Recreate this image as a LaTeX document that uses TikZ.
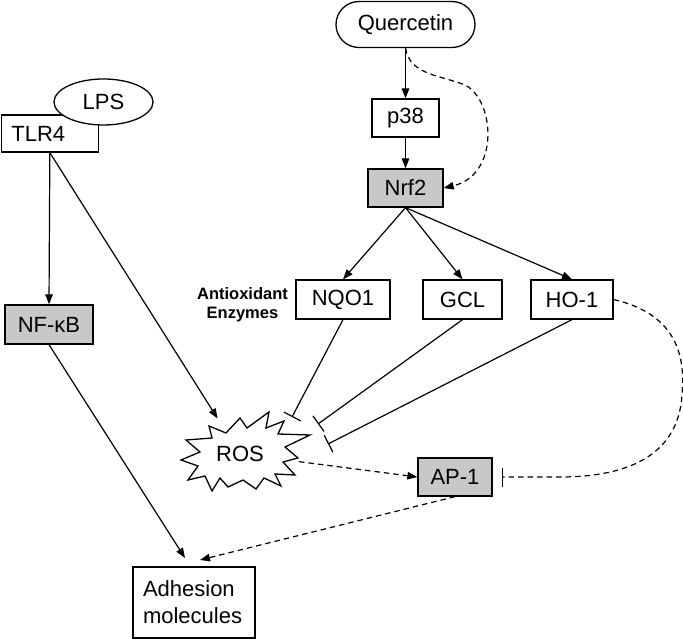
\documentclass[tikz,border=0pt]{standalone}
\usepackage{fontspec}
\setmainfont{Liberation Sans}
\usetikzlibrary{arrows.meta,calc,shapes.geometric}
\definecolor{boxgray}{RGB}{200,200,200}
\begin{document}
\begin{tikzpicture}[x=1pt,y=-1pt,
  every node/.style={font=\fontsize{22}{27}\selectfont, inner sep=0pt},
  box/.style={draw, line width=1.3pt, rectangle, align=center},
  graybox/.style={box, fill=boxgray},
  conn/.style={line width=1.2pt, -{Triangle[length=10pt,width=7.5pt]}},
  dconn/.style={conn, dash pattern=on 5.5pt off 4pt},
  inhib/.style={line width=1.2pt, -{Bar[width=19pt,line width=1.2pt]}},
  dinhib/.style={inhib, dash pattern=on 5.5pt off 4pt},
  rosline/.style={line width=1.3pt, fill=white, line join=miter}
]
\useasboundingbox (0,0) rectangle (683,639);

\node[box, rounded corners=23pt, minimum width=139pt, minimum height=46pt] (Q) at (405.5,24.5) {Quercetin};
\node[box, minimum width=67pt, minimum height=38pt] (p38) at (405.5,118) {p38};
\node[graybox, minimum width=75pt, minimum height=38pt] (Nrf2) at (405.5,188) {Nrf2};
\node[box, text width=77pt, align=left, inner xsep=10pt, minimum height=37pt, anchor=west] (TLR4) at (0.7,133.5) {TLR4};
\node[draw, ellipse, line width=1.3pt, fill=white, minimum width=99pt, minimum height=46pt] (LPS) at (103.5,102) {LPS};
\node[graybox, minimum width=88pt, minimum height=39pt] (NFkB) at (49,324.5) {NF-κB};
\node[box, minimum width=94pt, minimum height=39pt] (NQO1) at (343,299.5) {NQO1};
\node[box, minimum width=79pt, minimum height=39pt] (GCL) at (462.5,299.5) {GCL};
\node[box, minimum width=82pt, minimum height=39pt] (HO1) at (572,299.5) {HO-1};
\node[font=\fontsize{16.5}{19.5}\selectfont\bfseries, align=center] (AE) at (242.5,304.5) {Antioxidant\\Enzymes};

\coordinate (rosc) at (240,454);
\draw[rosline, shift={(rosc)}] (-31,-28) -- (-14,-21) -- (0,-36) -- (7,-26) -- (29,-42) -- (26,-26) -- (44,-33) -- (38,-20) -- (70,-19) -- (45,-7) -- (58,4) -- (43,8) -- (55,21) -- (35,20) -- (41,32) -- (24,24) -- (16,35) -- (3,26) -- (-12,33) -- (-20,24) -- (-28,37) -- (-35,22) -- (-52,26) -- (-42,12) -- (-59,6) -- (-40,-2) -- (-54,-14) -- (-28,-16) -- cycle;
\node[ellipse, minimum width=120pt, minimum height=76pt] (ROS) at (rosc) {ROS};

\node[graybox, minimum width=74pt, minimum height=38pt] (AP1) at (455,477) {AP-1};
\node[box, text width=102pt, align=left, inner xsep=10pt, minimum height=71pt] (Adh) at (194,602.5) {Adhesion\\molecules};

\coordinate (i1) at (292,417);
\coordinate (i2) at (318,424);
\coordinate (i3) at (328,444);
\coordinate (b4) at (502,477);
\coordinate (a1) at (200,560);
\coordinate (a2) at (185,558);

\draw[conn] (Q) -- (p38);
\draw[conn] (p38) -- (Nrf2);
\draw[dconn] (Q.south) .. controls (410,75) and (440,75) .. (465,85) .. controls (495,100) and (500,175) .. (Nrf2.east);
\draw[conn] (TLR4.south) -- (NFkB.north);
\draw[conn] (TLR4.south) -- (ROS);
\draw[conn] (Nrf2.south) -- (NQO1.north);
\draw[conn] (Nrf2.south) -- (GCL.north);
\draw[conn] (Nrf2.south) -- (HO1.north);
\draw[inhib] (NQO1.south) -- (i1);
\draw[inhib] (GCL.south) -- (i2);
\draw[inhib] (HO1.south) -- (i3);
\draw[dconn] (ROS) -- (AP1.west);
\draw[dinhib] (HO1.east) .. controls (680,315) and (685,360) .. (682,395) .. controls (678,460) and (620,477) .. (560,477) -- (b4);
\draw[dconn] (AP1.south) -- (a1);
\draw[conn] (NFkB.south) -- (a2);
\end{tikzpicture}
\end{document}
